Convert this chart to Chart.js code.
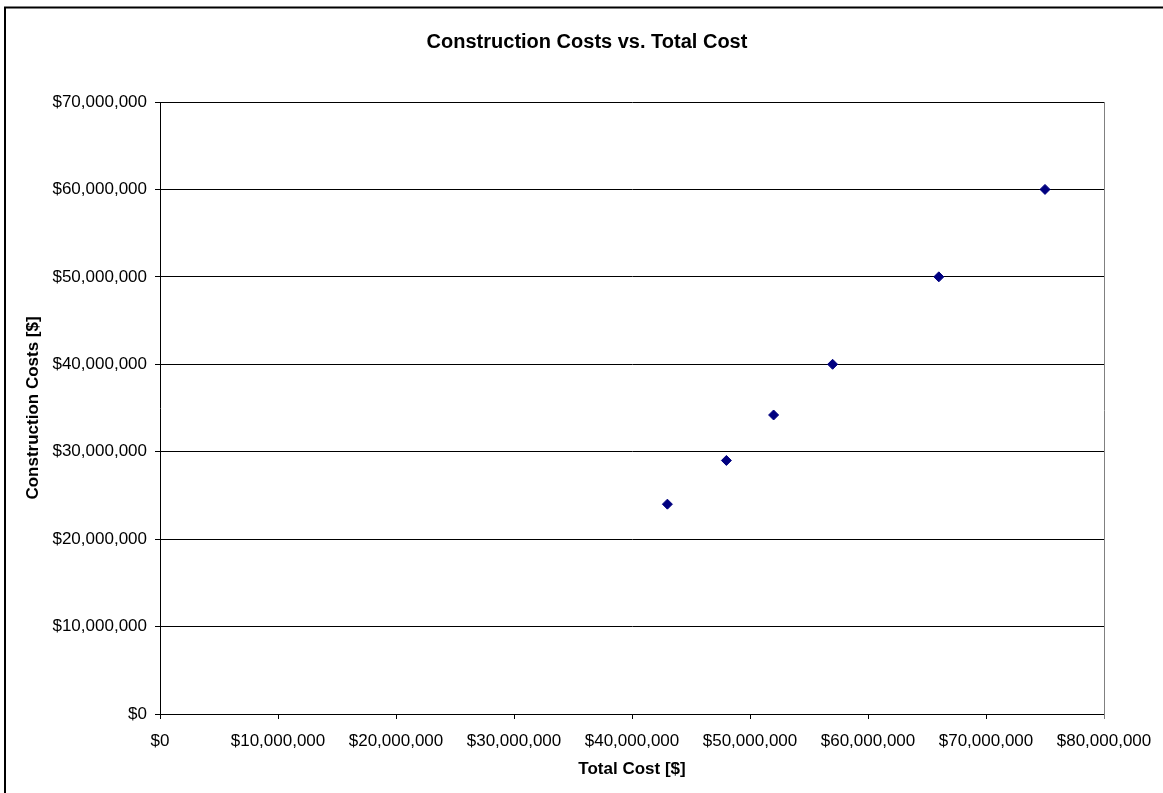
<!DOCTYPE html>
<html>
<head>
<meta charset="utf-8">
<title>Construction Costs vs. Total Cost</title>
<script src="https://cdn.jsdelivr.net/npm/chart.js@4/dist/chart.umd.min.js"></script>
<style>
  html, body { margin: 0; padding: 0; background: #fff; }
  #wrap { width: 1163px; height: 793px; }
</style>
</head>
<body>
<div id="wrap"><canvas id="scatter-chart"></canvas></div>
<script>
// project totals vs. their construction share, in dollars
const totalCost = [43000000, 48000000, 52000000, 57000000, 66000000, 75000000];
const constructionCosts = [24000000, 29000000, 34200000, 40000000, 50000000, 60000000];

const xRange = [0, 80000000];
const yRange = [0, 70000000];
const tickStep = 10000000;

const FONT = "'Liberation Sans', Arial, sans-serif";

function dollars(v) {
  return '$' + Number(v).toLocaleString('en-US');
}

// white page, outer frame and the grey right edge of the plot
const framePlugin = {
  id: 'frame',
  beforeDraw(chart) {
    const ctx = chart.ctx;
    ctx.save();
    ctx.fillStyle = '#fff';
    ctx.fillRect(0, 0, chart.width, chart.height);
    ctx.restore();
  },
  afterDraw(chart) {
    const ctx = chart.ctx;
    const a = chart.chartArea;
    ctx.save();
    ctx.strokeStyle = '#000';
    ctx.lineWidth = 2;
    ctx.strokeRect(5, 7.5, chart.width + 20, chart.height + 20);
    ctx.strokeStyle = '#808080';
    ctx.lineWidth = 1;
    ctx.beginPath();
    ctx.moveTo(Math.round(a.right) + 0.5, a.top);
    ctx.lineTo(Math.round(a.right) + 0.5, a.bottom + 5);
    ctx.stroke();
    ctx.restore();
  }
};

new Chart(document.getElementById('scatter-chart'), {
  type: 'scatter',
  data: {
    datasets: [{
      data: totalCost.map((x, i) => ({ x: x, y: constructionCosts[i] })),
      pointStyle: 'rectRot',
      pointRadius: 5,
      pointHoverRadius: 5,
      pointBackgroundColor: '#000080',
      pointBorderColor: '#000080',
      pointBorderWidth: 1
    }]
  },
  options: {
    responsive: true,
    maintainAspectRatio: false,
    animation: false,
    events: [],
    layout: { padding: { left: 11, right: 0, top: 0, bottom: 0 } },
    plugins: {
      legend: { display: false },
      tooltip: { enabled: false },
      title: {
        display: true,
        text: 'Construction Costs vs. Total Cost',
        color: '#000',
        font: { family: FONT, size: 20, weight: 'bold', lineHeight: 1.2 },
        padding: { top: 30, bottom: 48 }
      }
    },
    scales: {
      x: {
        type: 'linear',
        min: xRange[0],
        max: xRange[1],
        afterFit(scale) {
          scale.height = 79;
          // keep room on the right for the last tick label
          scale.paddingRight = 59;
        },
        border: { color: '#000', width: 1 },
        grid: { drawOnChartArea: false, drawTicks: true, tickLength: 5, color: '#000' },
        ticks: {
          stepSize: tickStep,
          color: '#000',
          padding: 12,
          maxRotation: 0,
          font: { family: FONT, size: 17 },
          callback: v => dollars(v)
        },
        title: {
          display: true,
          text: 'Total Cost [$]',
          color: '#000',
          font: { family: FONT, size: 17, weight: 'bold', lineHeight: 1.2 },
          padding: { top: 0, bottom: 13 }
        }
      },
      y: {
        type: 'linear',
        min: yRange[0],
        max: yRange[1],
        afterFit(scale) { scale.width = 149; },
        border: { color: '#000', width: 1 },
        grid: { drawOnChartArea: true, drawTicks: true, tickLength: 5, color: '#000' },
        ticks: {
          stepSize: tickStep,
          color: '#000',
          padding: 8,
          font: { family: FONT, size: 17 },
          callback: v => dollars(v)
        },
        title: {
          display: true,
          text: 'Construction Costs [$]',
          color: '#000',
          font: { family: FONT, size: 17, weight: 'bold', lineHeight: 1.2 },
          padding: { top: 12, bottom: 0 }
        }
      }
    }
  },
  plugins: [framePlugin]
});
</script>
</body>
</html>
